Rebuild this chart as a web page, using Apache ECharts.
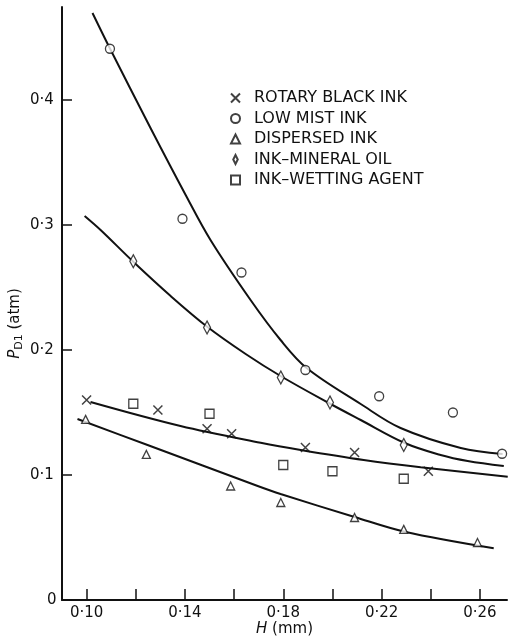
<!DOCTYPE html>
<html>
<head>
<meta charset="utf-8">
<script src="https://cdn.jsdelivr.net/npm/echarts@6/dist/echarts.min.js"></script>
<style>
html,body{margin:0;padding:0;background:#fff;}
#chart{width:518px;height:640px;}
</style>
</head>
<body>
<div id="chart"></div>
<script>
// ---- measured points (H in mm, P_D1 in atm) ----
var rotaryH = [0.100, 0.129, 0.149, 0.159, 0.189, 0.209, 0.239];
var rotaryP = [0.160, 0.152, 0.137, 0.133, 0.122, 0.118, 0.103];

var lowMistH = [0.1095, 0.139, 0.163, 0.189, 0.219, 0.249, 0.269];
var lowMistP = [0.441, 0.305, 0.262, 0.184, 0.163, 0.150, 0.117];

var dispersedH = [0.0996, 0.1243, 0.1586, 0.179, 0.209, 0.229, 0.259];
var dispersedP = [0.1445, 0.1165, 0.0912, 0.078, 0.066, 0.0565, 0.046];

var mineralH = [0.119, 0.149, 0.179, 0.199, 0.229];
var mineralP = [0.271, 0.218, 0.178, 0.158, 0.124];

var wettingH = [0.119, 0.150, 0.180, 0.200, 0.229];
var wettingP = [0.157, 0.149, 0.108, 0.103, 0.097];

// ---- fitted curves ----
var curveLowMistH = [0.1024, 0.1094, 0.1260, 0.1403, 0.1504, 0.1667, 0.1789, 0.1895, 0.2115, 0.2277, 0.2522, 0.2692];
var curveLowMistP = [0.4696, 0.4416, 0.3776, 0.3240, 0.2880, 0.2400, 0.2080, 0.1856, 0.1568, 0.1376, 0.1216, 0.1168];

var curveMineralH = [0.0992, 0.1057, 0.1191, 0.1342, 0.1492, 0.1647, 0.1789, 0.1985, 0.2115, 0.2294, 0.2440, 0.2550, 0.2697];
var curveMineralP = [0.3072, 0.2960, 0.2704, 0.2432, 0.2184, 0.1968, 0.1792, 0.1576, 0.1440, 0.1256, 0.1160, 0.1112, 0.1072];

var curveRotaryH = [0.1016, 0.1382, 0.1708, 0.1871, 0.2127, 0.2359, 0.2713];
var curveRotaryP = [0.1584, 0.1392, 0.1258, 0.1200, 0.1120, 0.1062, 0.0986];

var curveDispersedH = [0.0963, 0.1248, 0.1696, 0.1789, 0.2090, 0.2294, 0.2656];
var curveDispersedP = [0.1448, 0.1240, 0.0912, 0.0848, 0.0664, 0.0546, 0.0414];

// ---- axis ticks ----
var xTickValues = [0.10, 0.12, 0.14, 0.16, 0.18, 0.20, 0.22, 0.24, 0.26];
var xLabelValues = [0.10, 0.14, 0.18, 0.22, 0.26];
var yTickValues = [0, 0.1, 0.2, 0.3, 0.4];

var seriesNames = ['ROTARY BLACK INK', 'LOW MIST INK', 'DISPERSED INK', 'INK\u2013MINERAL OIL', 'INK\u2013WETTING AGENT'];

function pairs(a, b) { return a.map(function (v, i) { return [v, b[i]]; }); }

var FONT = 'DejaVu Sans';
var INK = '#111';

var chart = echarts.init(document.getElementById('chart'), null, {renderer: 'canvas'});

var symStyle = {color: '#fff', borderColor: INK, borderWidth: 1.3};

function curve(h, p) {
  return {
    type: 'line', data: pairs(h, p), smooth: 0.35, showSymbol: false, symbol: 'none',
    lineStyle: {color: INK, width: 2}, silent: true, z: 1, legendHoverLink: false
  };
}

chart.setOption({
  animation: false,
  backgroundColor: '#fff',
  textStyle: {fontFamily: FONT, color: INK},
  grid: {left: 62, right: 11, top: 7, bottom: 40, containLabel: false, outerBoundsMode: 'none'},
  legend: {
    data: seriesNames,
    orient: 'vertical',
    left: 230, top: 90, padding: 0,
    itemWidth: 9, itemHeight: 9, itemGap: 4.5,
    symbolKeepAspect: true,
    selectedMode: false,
    textStyle: {fontFamily: FONT, fontSize: 16, color: INK, lineHeight: 15, padding: [0, 0, 0, 9]}
  },
  xAxis: {
    type: 'value', min: 0.09, max: 0.271,
    name: '{i|H} (mm)', nameLocation: 'middle', nameGap: 22, nameMoveOverlap: false,
    nameTextStyle: {fontFamily: FONT, fontSize: 15, color: INK,
      rich: {i: {fontStyle: 'italic', fontFamily: FONT, fontSize: 15, color: INK}}},
    axisLine: {show: true, onZero: false, lineStyle: {color: INK, width: 2}},
    axisTick: {show: true, inside: true, length: 11, lineStyle: {color: INK, width: 1.5}, customValues: xTickValues},
    axisLabel: {
      customValues: xLabelValues, margin: 6, fontFamily: FONT, fontSize: 15, color: INK,
      formatter: function (v) { return v.toFixed(2).replace('.', '\u00b7'); }
    },
    splitLine: {show: false}
  },
  yAxis: {
    type: 'value', min: 0, max: 0.4744,
    name: '{i|P}{s|D1} (atm)', nameLocation: 'middle', nameGap: 37, nameRotate: 90, nameMoveOverlap: false,
    nameTextStyle: {fontFamily: FONT, fontSize: 15, color: INK, padding: [0, 40, 0, 0],
      rich: {
        i: {fontStyle: 'italic', fontFamily: FONT, fontSize: 15, color: INK},
        s: {fontFamily: FONT, fontSize: 11, color: INK, verticalAlign: 'bottom', padding: [8, 0, 0, 0]}
      }},
    axisLine: {show: true, onZero: false, lineStyle: {color: INK, width: 2}},
    axisTick: {show: true, inside: true, length: 10, lineStyle: {color: INK, width: 1.5}, customValues: yTickValues},
    axisLabel: {
      customValues: yTickValues, margin: 32, align: 'left', fontFamily: FONT, fontSize: 15, color: INK,
      formatter: function (v) { return v === 0 ? '{z|0}' : v.toFixed(1).replace('.', '\u00b7'); },
      rich: {z: {fontFamily: FONT, fontSize: 15, color: INK, padding: [0, 0, 0, 17]}}
    },
    splitLine: {show: false}
  },
  series: [
    curve(curveLowMistH, curveLowMistP),
    curve(curveMineralH, curveMineralP),
    curve(curveRotaryH, curveRotaryP),
    curve(curveDispersedH, curveDispersedP),
    {name: seriesNames[0], type: 'scatter', data: pairs(rotaryH, rotaryP), z: 3,
     symbol: 'path://M0,0L10,10M0,10L10,0', symbolSize: 9, symbolKeepAspect: true,
     itemStyle: {color: 'transparent', borderColor: INK, borderWidth: 1.5}},
    {name: seriesNames[1], type: 'scatter', data: pairs(lowMistH, lowMistP), z: 3,
     symbol: 'circle', symbolSize: 9, symbolKeepAspect: true, itemStyle: symStyle},
    {name: seriesNames[2], type: 'scatter', data: pairs(dispersedH, dispersedP), z: 3,
     symbol: 'triangle', symbolSize: 8, symbolKeepAspect: true, itemStyle: symStyle},
    {name: seriesNames[3], type: 'scatter', data: pairs(mineralH, mineralP), z: 3,
     symbol: 'path://M3,0L6,6L3,12L0,6Z', symbolSize: [7, 13], symbolKeepAspect: false, itemStyle: symStyle},
    {name: seriesNames[4], type: 'scatter', data: pairs(wettingH, wettingP), z: 3,
     symbol: 'rect', symbolSize: 9, symbolKeepAspect: true, itemStyle: symStyle}
  ]
});
</script>
</body>
</html>
